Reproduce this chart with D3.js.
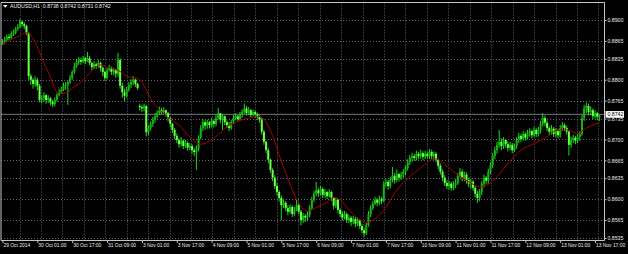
<!DOCTYPE html>
<html>
<head>
<meta charset="utf-8">
<script src="https://cdnjs.cloudflare.com/ajax/libs/d3/7.8.5/d3.min.js"></script>
<style>
  html, body { margin: 0; padding: 0; background: #000; }
  svg { display: block; }
  text { font-family: "Liberation Sans", Arial, sans-serif; }
</style>
</head>
<body>
<svg id="chart" width="628" height="254"></svg>
<script>
// AUDUSD H1, 29 Oct - 13 Nov 2014
const symbol = "AUDUSD";
const period = "H1";

// hourly bars, open = previous close except where a gap is listed
const firstOpen = 0.8858;
const gapOpens = [[63, 0.8756]];

const closes = [
  0.8863, 0.8867, 0.8872, 0.8870, 0.8877, 0.8878, 0.8885, 0.8888, 0.8897, 0.8893,
  0.8890, 0.8878, 0.8806, 0.8800, 0.8793, 0.8800, 0.8790, 0.8766, 0.8769, 0.8774,
  0.8766, 0.8769, 0.8763, 0.8759, 0.8766, 0.8774, 0.8779, 0.8783, 0.8790, 0.8791,
  0.8796, 0.8803, 0.8813, 0.8823, 0.8830, 0.8833, 0.8830, 0.8836, 0.8831, 0.8836,
  0.8828, 0.8821, 0.8826, 0.8823, 0.8828, 0.8820, 0.8813, 0.8803, 0.8816, 0.8820,
  0.8813, 0.8816, 0.8810, 0.8833, 0.8790, 0.8779, 0.8773, 0.8783, 0.8791, 0.8796,
  0.8800, 0.8793, 0.8786, 0.8754, 0.8752, 0.8756, 0.8712, 0.8719, 0.8726, 0.8733,
  0.8738, 0.8744, 0.8749, 0.8746, 0.8749, 0.8744, 0.8736, 0.8726, 0.8716, 0.8706,
  0.8699, 0.8692, 0.8698, 0.8689, 0.8694, 0.8686, 0.8689, 0.8682, 0.8679, 0.8684,
  0.8703, 0.8719, 0.8729, 0.8723, 0.8729, 0.8724, 0.8731, 0.8726, 0.8736, 0.8744,
  0.8733, 0.8739, 0.8729, 0.8724, 0.8719, 0.8729, 0.8736, 0.8739, 0.8734, 0.8741,
  0.8746, 0.8752, 0.8744, 0.8749, 0.8741, 0.8746, 0.8742, 0.8738, 0.8733, 0.8713,
  0.8696, 0.8682, 0.8666, 0.8649, 0.8636, 0.8622, 0.8612, 0.8602, 0.8590, 0.8594,
  0.8585, 0.8579, 0.8587, 0.8575, 0.8582, 0.8590, 0.8579, 0.8565, 0.8572, 0.8569,
  0.8574, 0.8585, 0.8599, 0.8609, 0.8615, 0.8610, 0.8617, 0.8607, 0.8612, 0.8605,
  0.8612, 0.8602, 0.8589, 0.8599, 0.8582, 0.8575, 0.8569, 0.8575, 0.8565, 0.8569,
  0.8562, 0.8567, 0.8559, 0.8564, 0.8555, 0.8548, 0.8543, 0.8557, 0.8575, 0.8585,
  0.8592, 0.8599, 0.8594, 0.8600, 0.8597, 0.8626, 0.8629, 0.8622, 0.8632, 0.8639,
  0.8632, 0.8642, 0.8636, 0.8641, 0.8646, 0.8652, 0.8662, 0.8669, 0.8672, 0.8669,
  0.8676, 0.8672, 0.8677, 0.8671, 0.8676, 0.8672, 0.8679, 0.8672, 0.8676, 0.8666,
  0.8656, 0.8646, 0.8636, 0.8627, 0.8622, 0.8626, 0.8619, 0.8624, 0.8627, 0.8639,
  0.8646, 0.8636, 0.8641, 0.8632, 0.8626, 0.8629, 0.8619, 0.8609, 0.8602, 0.8612,
  0.8626, 0.8636, 0.8631, 0.8646, 0.8657, 0.8672, 0.8682, 0.8691, 0.8696, 0.8689,
  0.8699, 0.8692, 0.8686, 0.8691, 0.8682, 0.8689, 0.8699, 0.8706, 0.8701, 0.8709,
  0.8703, 0.8711, 0.8714, 0.8707, 0.8716, 0.8709, 0.8716, 0.8726, 0.8736, 0.8728,
  0.8719, 0.8713, 0.8718, 0.8709, 0.8714, 0.8707, 0.8719, 0.8724, 0.8719, 0.8713,
  0.8691, 0.8699, 0.8703, 0.8698, 0.8704, 0.8709, 0.8736, 0.8752, 0.8756, 0.8746,
  0.8749, 0.8739, 0.8744, 0.8738, 0.8742
];

const highs = [
  0.8868, 0.8872, 0.8876, 0.8877, 0.8881, 0.8884, 0.8888, 0.8893, 0.8902, 0.8899,
  0.8896, 0.8892, 0.8880, 0.8810, 0.8803, 0.8806, 0.8803, 0.8793, 0.8774, 0.8779,
  0.8776, 0.8774, 0.8771, 0.8766, 0.8770, 0.8778, 0.8785, 0.8788, 0.8795, 0.8796,
  0.8799, 0.8808, 0.8816, 0.8828, 0.8835, 0.8838, 0.8837, 0.8840, 0.8838, 0.8847,
  0.8840, 0.8830, 0.8831, 0.8829, 0.8833, 0.8830, 0.8822, 0.8815, 0.8820, 0.8825,
  0.8822, 0.8820, 0.8818, 0.8845, 0.8836, 0.8795, 0.8785, 0.8788, 0.8796, 0.8801,
  0.8806, 0.8802, 0.8795, 0.8760, 0.8758, 0.8760, 0.8758, 0.8724, 0.8730, 0.8738,
  0.8744, 0.8749, 0.8755, 0.8753, 0.8754, 0.8750, 0.8746, 0.8738, 0.8728, 0.8719,
  0.8710, 0.8702, 0.8704, 0.8700, 0.8699, 0.8697, 0.8694, 0.8692, 0.8686, 0.8690,
  0.8707, 0.8724, 0.8734, 0.8732, 0.8733, 0.8731, 0.8736, 0.8733, 0.8741, 0.8753,
  0.8739, 0.8743, 0.8740, 0.8732, 0.8729, 0.8733, 0.8741, 0.8744, 0.8742, 0.8746,
  0.8750, 0.8760, 0.8756, 0.8754, 0.8751, 0.8750, 0.8749, 0.8745, 0.8741, 0.8736,
  0.8716, 0.8698, 0.8686, 0.8668, 0.8652, 0.8640, 0.8627, 0.8615, 0.8606, 0.8600,
  0.8597, 0.8590, 0.8591, 0.8590, 0.8587, 0.8599, 0.8594, 0.8582, 0.8577, 0.8575,
  0.8580, 0.8590, 0.8604, 0.8614, 0.8629, 0.8619, 0.8622, 0.8620, 0.8617, 0.8614,
  0.8617, 0.8614, 0.8604, 0.8602, 0.8601, 0.8585, 0.8580, 0.8580, 0.8578, 0.8574,
  0.8572, 0.8572, 0.8570, 0.8569, 0.8566, 0.8559, 0.8552, 0.8561, 0.8580, 0.8590,
  0.8597, 0.8604, 0.8602, 0.8606, 0.8604, 0.8630, 0.8634, 0.8632, 0.8637, 0.8654,
  0.8644, 0.8650, 0.8644, 0.8646, 0.8650, 0.8656, 0.8667, 0.8674, 0.8678, 0.8676,
  0.8681, 0.8679, 0.8683, 0.8680, 0.8681, 0.8680, 0.8684, 0.8683, 0.8680, 0.8679,
  0.8668, 0.8660, 0.8650, 0.8640, 0.8632, 0.8631, 0.8629, 0.8630, 0.8634, 0.8644,
  0.8652, 0.8650, 0.8646, 0.8645, 0.8636, 0.8634, 0.8632, 0.8622, 0.8614, 0.8617,
  0.8630, 0.8641, 0.8639, 0.8651, 0.8662, 0.8677, 0.8688, 0.8696, 0.8716, 0.8702,
  0.8704, 0.8701, 0.8697, 0.8696, 0.8694, 0.8693, 0.8704, 0.8711, 0.8709, 0.8714,
  0.8712, 0.8716, 0.8719, 0.8717, 0.8721, 0.8719, 0.8721, 0.8731, 0.8744, 0.8740,
  0.8732, 0.8722, 0.8724, 0.8721, 0.8719, 0.8718, 0.8724, 0.8729, 0.8727, 0.8723,
  0.8716, 0.8705, 0.8708, 0.8706, 0.8709, 0.8714, 0.8741, 0.8758, 0.8762, 0.8760,
  0.8755, 0.8752, 0.8749, 0.8746, 0.8742
];

const lows = [
  0.8858, 0.8860, 0.8864, 0.8866, 0.8868, 0.8873, 0.8876, 0.8882, 0.8886, 0.8889,
  0.8885, 0.8875, 0.8800, 0.8791, 0.8785, 0.8788, 0.8782, 0.8762, 0.8760, 0.8763,
  0.8760, 0.8761, 0.8757, 0.8754, 0.8755, 0.8763, 0.8772, 0.8776, 0.8781, 0.8783,
  0.8758, 0.8793, 0.8800, 0.8810, 0.8820, 0.8825, 0.8825, 0.8828, 0.8826, 0.8830,
  0.8824, 0.8816, 0.8818, 0.8818, 0.8820, 0.8814, 0.8806, 0.8798, 0.8800, 0.8814,
  0.8808, 0.8808, 0.8803, 0.8805, 0.8785, 0.8770, 0.8764, 0.8770, 0.8780, 0.8786,
  0.8791, 0.8788, 0.8783, 0.8748, 0.8746, 0.8747, 0.8705, 0.8707, 0.8715, 0.8721,
  0.8728, 0.8736, 0.8741, 0.8742, 0.8743, 0.8738, 0.8730, 0.8720, 0.8711, 0.8700,
  0.8694, 0.8686, 0.8688, 0.8684, 0.8686, 0.8681, 0.8682, 0.8676, 0.8672, 0.8649,
  0.8680, 0.8700, 0.8714, 0.8716, 0.8718, 0.8718, 0.8720, 0.8720, 0.8722, 0.8733,
  0.8727, 0.8716, 0.8724, 0.8719, 0.8714, 0.8716, 0.8726, 0.8733, 0.8731, 0.8731,
  0.8736, 0.8743, 0.8740, 0.8741, 0.8737, 0.8738, 0.8736, 0.8733, 0.8728, 0.8708,
  0.8691, 0.8677, 0.8660, 0.8644, 0.8630, 0.8617, 0.8606, 0.8596, 0.8565, 0.8585,
  0.8580, 0.8573, 0.8576, 0.8570, 0.8572, 0.8580, 0.8574, 0.8556, 0.8560, 0.8562,
  0.8563, 0.8570, 0.8582, 0.8595, 0.8605, 0.8604, 0.8606, 0.8602, 0.8602, 0.8600,
  0.8603, 0.8597, 0.8583, 0.8585, 0.8576, 0.8570, 0.8564, 0.8566, 0.8560, 0.8560,
  0.8555, 0.8558, 0.8553, 0.8555, 0.8550, 0.8543, 0.8537, 0.8540, 0.8554, 0.8570,
  0.8582, 0.8590, 0.8588, 0.8590, 0.8592, 0.8595, 0.8620, 0.8616, 0.8618, 0.8628,
  0.8626, 0.8628, 0.8630, 0.8632, 0.8636, 0.8640, 0.8648, 0.8657, 0.8663, 0.8664,
  0.8665, 0.8667, 0.8668, 0.8665, 0.8667, 0.8668, 0.8667, 0.8666, 0.8666, 0.8662,
  0.8650, 0.8641, 0.8630, 0.8622, 0.8617, 0.8616, 0.8614, 0.8615, 0.8618, 0.8624,
  0.8636, 0.8630, 0.8630, 0.8626, 0.8620, 0.8618, 0.8614, 0.8603, 0.8594, 0.8597,
  0.8607, 0.8620, 0.8625, 0.8626, 0.8642, 0.8652, 0.8667, 0.8676, 0.8686, 0.8682,
  0.8684, 0.8686, 0.8680, 0.8682, 0.8677, 0.8679, 0.8684, 0.8694, 0.8696, 0.8698,
  0.8698, 0.8700, 0.8705, 0.8702, 0.8704, 0.8704, 0.8705, 0.8710, 0.8722, 0.8722,
  0.8714, 0.8707, 0.8708, 0.8704, 0.8704, 0.8702, 0.8703, 0.8714, 0.8714, 0.8708,
  0.8673, 0.8686, 0.8694, 0.8692, 0.8694, 0.8698, 0.8706, 0.8731, 0.8744, 0.8740,
  0.8741, 0.8734, 0.8735, 0.8732, 0.8731
];

// red moving average at these bar numbers
const maBars = [
  0, 4, 8, 11, 16, 19, 22, 24, 26, 30, 32, 36, 40, 45, 48, 53, 57, 62, 65, 68,
  72, 77, 81, 86, 91, 95, 99, 103, 109, 113, 117, 120, 124, 127, 131, 135, 140, 144, 149, 152,
  155, 160, 164, 167, 172, 176, 180, 184, 189, 194, 198, 201, 204, 210, 215, 219, 224, 228, 233, 238,
  244, 250, 255, 259, 264, 268, 274
];
const maValues = [
  0.8860, 0.8867, 0.8874, 0.8879, 0.8855, 0.8828, 0.8805, 0.8785, 0.8778, 0.8778,
  0.8786, 0.8796, 0.8811, 0.8825, 0.8821, 0.8816, 0.8806, 0.8802, 0.8790, 0.8768,
  0.8750, 0.8734, 0.8724, 0.8704, 0.8692, 0.8697, 0.8708, 0.8721, 0.8732, 0.8736,
  0.8739, 0.8734, 0.8706, 0.8674, 0.8634, 0.8600, 0.8580, 0.8586, 0.8595, 0.8603,
  0.8599, 0.8578, 0.8566, 0.8561, 0.8570, 0.8586, 0.8610, 0.8628, 0.8644, 0.8658,
  0.8668, 0.8664, 0.8655, 0.8638, 0.8627, 0.8621, 0.8627, 0.8642, 0.8664, 0.8682,
  0.8693, 0.8705, 0.8716, 0.8716, 0.8710, 0.8719, 0.8728
];

const priceTicks = [0.8900, 0.8865, 0.8835, 0.8800, 0.8765, 0.8735, 0.8700, 0.8665, 0.8635, 0.8600, 0.8565, 0.8535];
const timeLabels = [
  "29 Oct 2014", "30 Oct 01:00", "30 Oct 17:00", "31 Oct 09:00", "3 Nov 01:00", "3 Nov 17:00",
  "4 Nov 09:00", "5 Nov 01:00", "5 Nov 17:00", "6 Nov 09:00", "7 Nov 01:00", "7 Nov 17:00",
  "10 Nov 09:00", "11 Nov 01:00", "11 Nov 17:00", "12 Nov 09:00", "13 Nov 01:00", "13 Nov 17:00"
];
const barsPerLabel = 16;

(function () {
  const svg = d3.select('#chart');
  const fmt = d3.format('.4f');

  const frameL = 1, frameT = 2.5, frameR = 604.5, frameB = 240.5;

  const x = d3.scaleLinear().domain([0, closes.length - 1]).range([2.5, 599.4]);
  const y = d3.scaleLinear().domain([0.8535, 0.8900]).range([238, 20]);

  const opens = closes.map((c, i) => i === 0 ? firstOpen : closes[i - 1]);
  gapOpens.forEach(g => { opens[g[0]] = g[1]; });

  const bars = closes.map((c, i) => ({ i: i, o: opens[i], h: highs[i], l: lows[i], c: c }));
  const last = bars[bars.length - 1];

  svg.append('rect').attr('width', 628).attr('height', 254).attr('fill', '#000');

  // grid
  const grid = svg.append('g').attr('id', 'grid')
    .attr('stroke', '#5f6b78').attr('stroke-width', 1).attr('stroke-dasharray', '1,2');

  grid.selectAll('line.h')
    .data(priceTicks)
    .enter()
    .append('line')
    .attr('class', 'h')
    .attr('x1', frameL).attr('x2', frameR)
    .attr('y1', d => Math.round(y(d)) + 0.5)
    .attr('y2', d => Math.round(y(d)) + 0.5);

  grid.selectAll('line.v')
    .data(d3.range(19.5, frameR - 2, 21.44))
    .enter()
    .append('line')
    .attr('class', 'v')
    .attr('x1', d => Math.round(d) + 0.5).attr('x2', d => Math.round(d) + 0.5)
    .attr('y1', frameT).attr('y2', frameB);

  // bid line
  svg.append('line')
    .attr('x1', frameL).attr('x2', frameR)
    .attr('y1', y(last.c)).attr('y2', y(last.c))
    .attr('stroke', '#6c757e')
    .attr('stroke-width', 1);

  // candles
  const candles = svg.append('g').attr('id', 'candles');

  candles.selectAll('line')
    .data(bars)
    .enter()
    .append('line')
    .attr('x1', d => x(d.i)).attr('x2', d => x(d.i))
    .attr('y1', d => y(d.h)).attr('y2', d => y(d.l))
    .attr('stroke', '#10e010')
    .attr('stroke-width', 1);

  candles.selectAll('rect')
    .data(bars)
    .enter()
    .append('rect')
    .attr('x', d => x(d.i) - 1)
    .attr('width', 2)
    .attr('y', d => Math.min(y(d.o), y(d.c)))
    .attr('height', d => Math.max(0.8, Math.abs(y(d.o) - y(d.c))))
    .attr('fill', d => d.c >= d.o ? '#14b414' : '#6cff4c');

  // moving average
  const ma = maBars.map((b, k) => ({ i: b, v: maValues[k] }));
  svg.append('path')
    .datum(ma)
    .attr('d', d3.line().x(d => x(d.i)).y(d => y(d.v)).curve(d3.curveMonotoneX))
    .attr('fill', 'none')
    .attr('stroke', '#a80000')
    .attr('stroke-width', 1);

  // frame
  svg.append('path')
    .attr('d', `M${frameL},${frameT}H${frameR}V${frameB}H${frameL}Z`)
    .attr('fill', 'none')
    .attr('stroke', '#c4c4c4')
    .attr('stroke-width', 1);

  // price axis
  const yAxis = svg.append('g')
    .attr('transform', `translate(${frameR},0)`)
    .call(d3.axisRight(y).tickValues(priceTicks).tickSize(2).tickPadding(1).tickFormat(fmt));
  yAxis.select('.domain').remove();
  yAxis.selectAll('line').attr('stroke', '#c4c4c4');
  yAxis.selectAll('text')
    .attr('fill', '#ececec')
    .attr('font-size', '5.2px')
    .attr('font-family', '"Liberation Sans", Arial, sans-serif');

  // current price tag
  const tag = svg.append('g').attr('transform', `translate(${frameR + 1},${y(last.c)})`);
  tag.append('rect')
    .attr('x', 0).attr('y', -3.3).attr('width', 18.5).attr('height', 6.6)
    .attr('fill', '#fff');
  tag.append('text')
    .attr('x', 2).attr('y', 0).attr('dy', '0.35em')
    .attr('font-size', '5.2px')
    .attr('fill', '#000')
    .text(fmt(last.c));

  // time axis
  const xAxis = svg.append('g')
    .attr('transform', `translate(0,${frameB})`)
    .call(d3.axisBottom(x)
      .tickValues(timeLabels.map((t, k) => k * barsPerLabel))
      .tickSize(2.5).tickPadding(1)
      .tickFormat((d, k) => timeLabels[k]));
  xAxis.select('.domain').remove();
  xAxis.selectAll('line').attr('stroke', '#c4c4c4');
  xAxis.selectAll('text')
    .attr('text-anchor', 'start')
    .attr('dx', '0.5')
    .attr('fill', '#ececec')
    .attr('font-size', '4.9px')
    .attr('font-family', '"Liberation Sans", Arial, sans-serif');

  // title
  svg.append('path')
    .attr('d', 'M3,5L7.5,5L5.25,7.8Z')
    .attr('fill', '#fff');
  svg.append('text')
    .attr('x', 10).attr('y', 8.4)
    .attr('font-size', '5.2px')
    .attr('fill', '#ececec')
    .attr('xml:space', 'preserve')
    .text(`${symbol},${period}  ${fmt(last.o)} ${fmt(last.h)} ${fmt(last.l)} ${fmt(last.c)}`);
})();
</script>
</body>
</html>
